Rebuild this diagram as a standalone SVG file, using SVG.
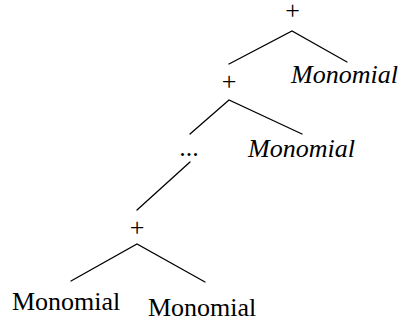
<svg xmlns="http://www.w3.org/2000/svg" width="402" height="322" viewBox="0 0 402 322">
  <style>
    text { font-family: "Liberation Serif", "Times New Roman", serif; font-size: 26px; fill: #000; }
    .op { text-anchor: middle; }
    .it { font-style: italic; }
    .edge { stroke: #000; stroke-width: 1.3; fill: none; stroke-linecap: round; }
  </style>
  <rect width="402" height="322" fill="#fff"/>
  <g id="connectors">
    <path class="edge" d="M229 64 L292 31 L347 62"/>
    <path class="edge" d="M190 134 L229 100 L302 134"/>
    <path class="edge" d="M190 162 L137 210"/>
    <path class="edge" d="M71 281 L137 244 L205 282"/>
  </g>
  <g id="plus-root"><text class="op" x="292.5" y="19">+</text></g>
  <g id="monomial-1"><text class="it" x="291" y="83">Monomial</text></g>
  <g id="plus-2"><text class="op" x="229" y="89.5">+</text></g>
  <g id="ellipsis"><text class="op" x="189" y="156">...</text></g>
  <g id="monomial-2"><text class="it" x="248" y="157">Monomial</text></g>
  <g id="plus-3"><text class="op" x="137" y="236">+</text></g>
  <g id="monomial-3"><text x="12" y="310">Monomial</text></g>
  <g id="monomial-4"><text x="148" y="316">Monomial</text></g>
</svg>
